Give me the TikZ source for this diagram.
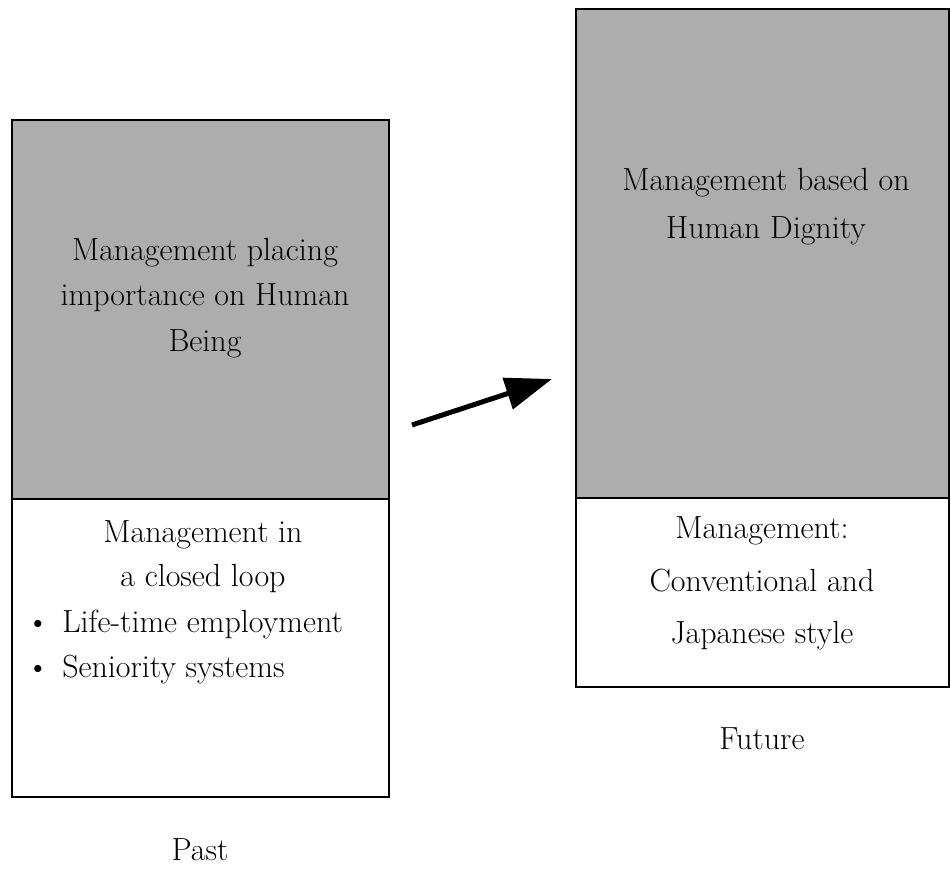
\documentclass[tikz,border=0pt]{standalone}
\usetikzlibrary{arrows.meta}
\begin{document}
\begin{tikzpicture}[x=0.75pt,y=-0.75pt,
  frame/.style={line width=1.6pt},
  divider/.style={line width=2pt},
  shaded/.style={fill=black!32},
  txt/.style={font=\fontsize{24}{34}\selectfont, inner sep=0pt, anchor=base},
  flow/.style={line width=3.75pt, -{Triangle[length=35pt,width=24pt]}}]
\useasboundingbox (0,0) rectangle (951,873);

% --- Past column ---
\fill[shaded] (12,120) rectangle (389,499);
\draw[frame] (12,120) rectangle (389,797);
\draw[divider] (12,499) -- (389,499);

\node[txt] (p1) at (205,261) {Management placing};
\node[txt] (p2) at (205,306) {importance on Human};
\node[txt] (p3) at (205,352) {Being};

\node[txt] (q1) at (203,543) {Management in};
\node[txt] (q2) at (203,587) {a closed loop};
\node[txt] (b1) at (38,633) {\textbullet};
\node[txt, anchor=base west] (q3) at (62,633) {Life-time employment};
\node[txt] (b2) at (38,678) {\textbullet};
\node[txt, anchor=base west] (q4) at (62,678) {Seniority systems};

\node[txt] (past) at (200,860) {Past};

% --- Future column ---
\fill[shaded] (576,9) rectangle (949,498);
\draw[frame] (576,9) rectangle (949,687);
\draw[divider] (576,498) -- (949,498);

\node[txt] (f1) at (766,191) {Management based on};
\node[txt] (f2) at (766,239) {Human Dignity};

\node[txt] (g1) at (762,539) {Management:};
\node[txt] (g2) at (762,592) {Conventional and};
\node[txt] (g3) at (762,644) {Japanese style};

\node[txt] (future) at (762,750) {Future};

% --- transition arrow ---
\coordinate (from) at (412,425);
\coordinate (to) at (552,379);
\draw[flow] (from) -- (to);
\end{tikzpicture}
\end{document}
